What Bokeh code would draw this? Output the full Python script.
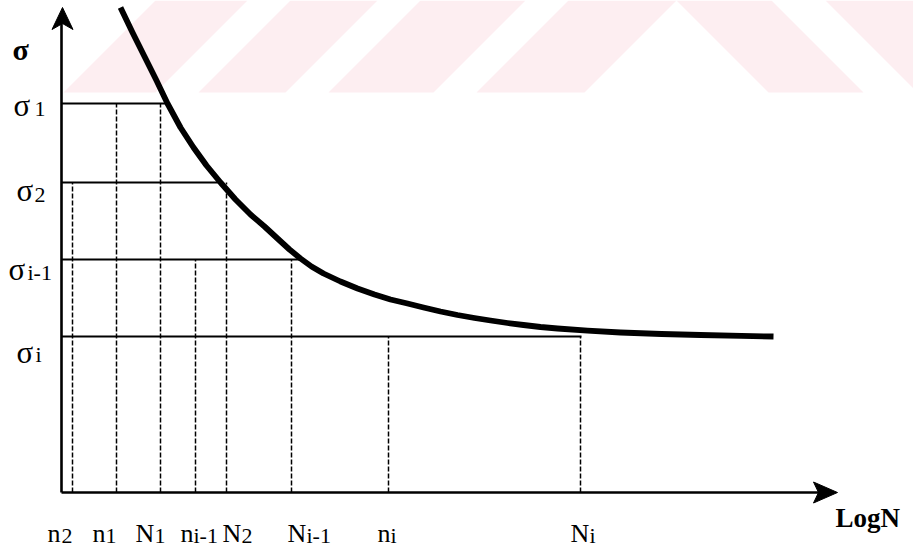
from bokeh.plotting import figure
from bokeh.models import Range1d, ColumnDataSource
from bokeh.core.properties import value
from bokeh.embed import file_html
from bokeh.resources import INLINE

# ---------------- data (chart units: origin at the axes' corner) ----------------
sigma_names = ["σ1", "σ2", "σi-1", "σi"]
sigma_levels = [389, 310, 233, 156]
sigma_line_ends = [106, 157, 239, 520]          # LogN where each level meets the curve

life_names = ["n2", "n1", "N1", "ni-1", "N2", "Ni-1", "ni", "Ni"]
life_values = [11, 55, 99, 134, 165, 230, 327, 519]
life_from_sigma = [310, 389, 389, 233, 310, 233, 156, 156]

curve_logN = [59, 71, 83, 95, 106, 119, 132, 145, 159, 174, 189, 203, 216,
              228, 239, 250, 262, 279, 296, 313, 329, 346, 362, 379, 396,
              413, 429, 446, 462, 479, 496, 526, 559, 600, 639, 680, 712]
curve_sigma = [485, 460, 436, 412, 389, 365, 345, 327, 310, 293, 278, 266, 254,
               243, 234, 226, 219, 211, 204, 198, 193, 189, 185, 181, 177.5,
               174.5, 172, 169.5, 167.5, 165.5, 164, 161.8, 160, 158.5, 157.5, 156.6, 156]

x_axis_end = 776
y_axis_end = 485

# ---------------- layout helpers (picture pixels -> chart units) ----------------
X0, Y0 = 61, 492
def cx(px): return px - X0
def cy(py): return Y0 - py
TEXT_DY = 8          # svg text lands lower than its baseline; lift it

W, H = 913, 548
p = figure(width=W, height=H, output_backend="svg", toolbar_location=None,
           x_range=Range1d(cx(0), cx(W)), y_range=Range1d(cy(H), cy(0)),
           x_axis_type=None, y_axis_type=None, min_border=0,
           outline_line_color=None, background_fill_color="white",
           border_fill_color="white")
p.grid.visible = False

# faint watermark stripes in the top band
band = 92
pink = "#fdeef1"
wx, wy = [], []
for a, b in [(63, 155), (198, 285), (328, 433), (476, 584)]:      # "/" stripes (bottom edge)
    wx.append([cx(a), cx(b), cx(b + band), cx(a + band)])
    wy.append([cy(band), cy(band), cy(0), cy(0)])
for c, d in [(676, 771), (825, 940)]:                                # "\" stripes (top edge)
    wx.append([cx(c), cx(d), cx(d + band), cx(c + band)])
    wy.append([cy(0), cy(0), cy(band), cy(band)])
p.patches(wx, wy, fill_color=pink, line_color=None)

# dashed projections down to the LogN axis
p.segment(x0=life_values, y0=[0] * len(life_values), x1=life_values, y1=life_from_sigma,
          line_color="black", line_width=1.5, line_dash="5 2")

# stress levels
p.segment(x0=[0] * len(sigma_levels), y0=sigma_levels, x1=sigma_line_ends, y1=sigma_levels,
          line_color="black", line_width=2)

# axes
p.segment(x0=[0, 0], y0=[0, 0], x1=[0, x_axis_end - 8], y1=[y_axis_end - 8, 0],
          line_color="black", line_width=2.6)
p.patches([[1, -9.5, 1, 11.5], [x_axis_end, x_axis_end - 24, x_axis_end - 19, x_axis_end - 24]],
          [[y_axis_end, y_axis_end - 22, y_axis_end - 16, y_axis_end - 22], [0, 10.5, 0, -10.5]],
          fill_color="black", line_color="black", line_width=1)

# S-N curve
p.line(curve_logN, curve_sigma, line_color="black", line_width=5.8, line_join="round")

# ---------------- texts ----------------
serif = value("Liberation Serif")

def put(xs, ys, texts, size, style="normal"):
    src = ColumnDataSource(dict(x=[cx(v) for v in xs], y=[cy(v - TEXT_DY) for v in ys], t=texts))
    p.text(x="x", y="y", text="t", source=src, text_font=serif, text_font_size=size,
           text_font_style=style, text_baseline="alphabetic", text_align="left",
           text_color="black")

# left labels
sig_main_x = [13, 16, 8, 16]
sig_main_base = [113, 198, 277, 360]
sig_sub_x = [34, 34, 27, 35]
sig_sub_base = [116, 202, 280, 362]
put(sig_main_x, sig_main_base, [n[0] for n in sigma_names], "31px")
put(sig_sub_x, sig_sub_base, [n[1:] for n in sigma_names], "22px")

# bottom labels
life_main_x = [47, 92, 135, 180, 222, 287, 377, 570]
life_sub_x = [61, 105, 154, 193, 241, 306, 390, 589]
put(life_main_x, [541] * len(life_names), [n[0] for n in life_names], "26px")
put(life_sub_x, [543] * len(life_names), [n[1:] for n in life_names], "22px")

# axis titles
put([12], [57], ["σ"], "30px", "bold")
put([835], [525], ["LogN"], "27px", "bold")

open("out.html", "w").write(file_html(p, INLINE))
